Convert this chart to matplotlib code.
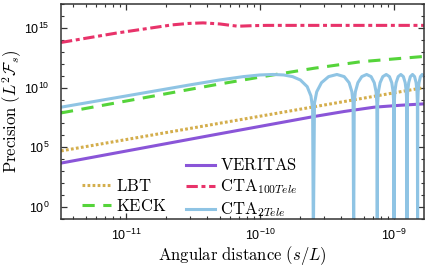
import matplotlib
matplotlib.use("Agg")
import matplotlib.pyplot as plt
from matplotlib.lines import Line2D
from matplotlib import ticker
import numpy as np

plt.rcParams['font.family'] = ['Liberation Sans', 'DejaVu Sans']
plt.rcParams['mathtext.fontset'] = 'cm'

# values (x: s/L, y: log10 precision)
lbt_x = [3.27e-12, 1.675e-9]
lbt_y = [4.7, 10.0]

keck_x = [3.27e-12, 4.54e-11, 1.127e-10, 2.53e-10, 5.68e-10, 1.41e-9, 1.675e-9]
keck_y = [7.88, 10.22, 10.98, 11.62, 12.17, 12.54, 12.61]

veritas_x = [3.27e-12, 4.54e-11, 2.53e-10, 4.24e-10, 7.10e-10, 1.11e-9, 1.675e-9]
veritas_y = [3.68, 6.05, 7.58, 8.0, 8.36, 8.52, 8.64]

cta100_x = [3.27e-12, 8.41e-12, 2.20e-11, 2.90e-11, 3.76e-11, 5.01e-11, 5.87e-11,
            6.85e-11, 9.02e-11, 1.127e-10, 1.675e-9]
cta100_y = [13.78, 14.56, 15.25, 15.37, 15.42, 15.33, 15.23, 15.14, 15.19, 15.21, 15.21]

# CTA 2 telescopes, x in units of 1e-10
cta2_x = [0.0327, 0.1, 0.3, 0.5, 0.75, 1.0, 1.25, 1.5, 1.75, 2.0, 2.25, 2.4, 2.47, 2.5,
          2.55, 2.65, 2.875, 3.25, 3.75, 4.25, 4.625, 4.85, 4.95, 5.0,
          5.05, 5.15, 5.375, 5.75, 6.25, 6.75, 7.125, 7.35, 7.45, 7.5,
          7.55, 7.65, 7.875, 8.25, 8.75, 9.25, 9.625, 9.85, 9.95, 10.0,
          10.05, 10.15, 10.375, 10.75, 11.25, 11.75, 12.125, 12.35, 12.45, 12.5,
          12.55, 12.65, 12.875, 13.25, 13.75, 14.25, 14.625, 14.85, 14.95, 15.0,
          15.05, 15.15, 15.375, 15.75, 16.25, 16.75]
cta2_y = [8.36, 9.30, 10.23, 10.64, 10.92, 11.06, 11.1, 11.06, 10.92, 10.64, 10.08, 9.30, 8.25, -3,
          8.70, 9.65, 10.41, 10.92, 11.1, 10.92, 10.41, 9.65, 8.70, -3,
          8.70, 9.65, 10.41, 10.92, 11.1, 10.92, 10.41, 9.65, 8.70, -3,
          8.70, 9.65, 10.41, 10.92, 11.1, 10.92, 10.41, 9.65, 8.70, -3,
          8.70, 9.65, 10.41, 10.92, 11.1, 10.92, 10.41, 9.65, 8.70, -3,
          8.70, 9.65, 10.41, 10.92, 11.1, 10.92, 10.41, 9.65, 8.70, -3,
          8.70, 9.65, 10.41, 10.92, 11.1, 10.94]

fig = plt.figure(figsize=(4.28, 2.69), dpi=100)
ax = fig.add_axes([61/428, 1-219/269, 363/428, 215/269])

lw = 2.2
ax.plot(lbt_x, 10**np.array(lbt_y), color='#d4ae4c', lw=lw, ls=(0, (0.9, 0.75)), label='LBT')
ax.plot(keck_x, 10**np.array(keck_y), color='#55d43a', lw=lw, ls=(0, (4, 2.8)), label='KECK')
ax.plot(veritas_x, 10**np.array(veritas_y), color='#8a55d8', lw=lw, label='VERITAS')
ax.plot(cta100_x, 10**np.array(cta100_y), color='#e8336a', lw=lw,
        ls=(0, (3.7, 1.2, 1.3, 1.2)), label=r'CTA$_{100Tele}$')
ax.plot(np.array(cta2_x)*1e-10, 10**np.array(cta2_y), color='#8fc4e4', lw=lw,
        label=r'CTA$_{2Tele}$')

ax.set_xscale('log')
ax.set_yscale('log')
ax.set_xlim(3.27e-12, 1.675e-9)
ax.set_ylim(1e-1, 1e17)
ax.set_yticks([1, 1e5, 1e10, 1e15])
ax.yaxis.set_minor_locator(ticker.FixedLocator([10.0**k for k in range(-1, 18) if k % 5]))
ax.yaxis.set_minor_formatter(ticker.NullFormatter())

ax.tick_params(which='both', direction='in', top=True, right=True, labelsize=9, color='#333333')
ax.tick_params(which='major', length=4.5, width=0.9)
ax.tick_params(which='minor', length=2.5, width=0.8)
ax.tick_params(axis='x', which='major', pad=6)
ax.tick_params(axis='y', which='major', pad=8)
for sp in ax.spines.values():
    sp.set_linewidth(1.1)
    sp.set_color('#333333')

ax.set_xlabel(r'$\mathrm{Angular\ distance}\ (s/L)$', fontsize=12, labelpad=1)
ax.set_ylabel(r'$\mathrm{Precision}\ (L^2\mathcal{F}_s)$', fontsize=12, labelpad=0)

h, l = ax.get_legend_handles_labels()
blank = Line2D([], [], ls='none')
labels = [r'$\mathrm{LBT}$', r'$\mathrm{KECK}$', r'$\mathrm{VERITAS}$',
          r'$\mathrm{CTA}_{100Tele}$', r'$\mathrm{CTA}_{2Tele}$']
ax.legend([blank] + h, [' '] + labels, ncol=2, frameon=False, fontsize=12,
          loc='lower left', bbox_to_anchor=(0.027, -0.056), borderpad=0.2,
          handlelength=1.7, handletextpad=0.3, columnspacing=1.2, labelspacing=0.25)

fig.savefig('out.png', dpi=100)
